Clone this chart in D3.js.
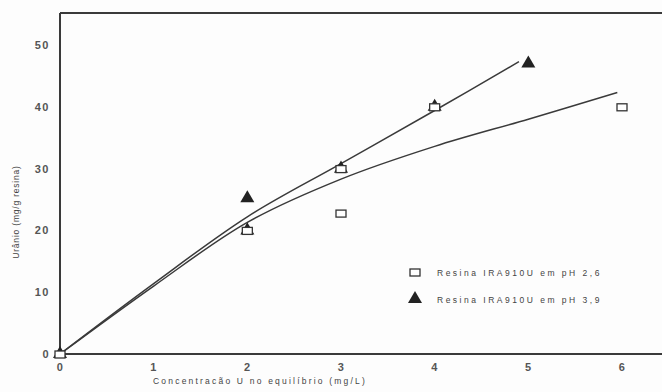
<!DOCTYPE html>
<html><head><meta charset="utf-8">
<script src="https://cdn.jsdelivr.net/npm/d3@7"></script>
<style>body{margin:0;background:#fff}svg{display:block}</style>
</head><body>
<script>
// Data
const xTicks = [0,1,2,3,4,5,6];
const yTicks = [0,10,20,30,40,50];
const seriesNames = ["Resina IRA910U em pH 2,6","Resina IRA910U em pH 3,9"];
// pH 2.6 (open squares)
const sqX = [0,2,3,3,4,6];
const sqY = [0,20,22.8,30,40,40];
// pH 3.9 (filled triangles)
const triX = [0,2,2,3,4,5];
const triY = [0,20,25.2,30,40,47];
// fitted curves
const fitLowX = [0,1,2,3,4,5,5.95];
const fitLowY = [0,11,21.3,28.3,33.6,38,42.3];
const fitHighX = [0,1,2,3,4,4.9];
const fitHighY = [0,11.4,22.2,30.8,39.4,47.3];

const W=662,H=392;
const svg=d3.select("body").append("svg").attr("width",W).attr("height",H);
svg.append("rect").attr("width",W).attr("height",H).attr("fill","#fdfdfd");

const x=d3.scaleLinear().domain([0,6]).range([60,622]);
const y=d3.scaleLinear().domain([0,50]).range([354,45]);
const ink="#3a3a3a";
const font="Liberation Sans, Arial, sans-serif";

// frame
svg.append("line").attr("x1",60).attr("x2",662).attr("y1",13).attr("y2",13).attr("stroke",ink).attr("stroke-width",2);
const xAxis=svg.append("g").attr("transform","translate(0,354)")
  .call(d3.axisBottom(x).tickValues(xTicks).tickSize(0).tickPadding(9).tickFormat(d3.format("d")));
xAxis.select(".domain").attr("d","M60,0H662").attr("stroke",ink).attr("stroke-width",2);
const yAxis=svg.append("g").attr("transform","translate(60,0)")
  .call(d3.axisLeft(y).tickValues(yTicks).tickSize(0).tickPadding(10).tickFormat(d3.format("d")));
yAxis.select(".domain").attr("d","M0,13V355").attr("stroke",ink).attr("stroke-width",2);
svg.selectAll(".tick text").attr("font-family",font)
  .attr("font-size",11).attr("font-weight","bold").attr("fill","#555").attr("letter-spacing",1.5);

// titles
svg.append("text").attr("x",260).attr("y",384).attr("text-anchor","middle")
  .attr("font-family",font).attr("font-size",8.5).attr("letter-spacing",2.2)
  .attr("fill","#444").text("Concentracão U no equilíbrio (mg/L)");
svg.append("text").attr("transform","translate(19,212) rotate(-90)").attr("text-anchor","middle")
  .attr("font-family",font).attr("font-size",8.5).attr("letter-spacing",0.8)
  .attr("fill","#444").text("Urânio (mg/g resina)");

// curves
const line=d3.line().x(d=>x(d[0])).y(d=>y(d[1])).curve(d3.curveCatmullRom.alpha(0.5));
svg.append("path").attr("d",line(fitLowX.map((v,i)=>[v,fitLowY[i]]))).attr("fill","none").attr("stroke",ink).attr("stroke-width",1.5);
svg.append("path").attr("d",line(fitHighX.map((v,i)=>[v,fitHighY[i]]))).attr("fill","none").attr("stroke",ink).attr("stroke-width",1.5);

// markers
const tri=d3.symbol().type(d3.symbolTriangle).size(85);
svg.selectAll(".tri").data(triX.map((v,i)=>[v,triY[i]])).enter().append("path")
  .attr("d",tri).attr("transform",d=>`translate(${x(d[0])},${y(d[1])})`).attr("fill","#222");
svg.selectAll(".sq").data(sqX.map((v,i)=>[v,sqY[i]])).enter().append("rect")
  .attr("x",d=>x(d[0])-5).attr("y",d=>y(d[1])-3).attr("width",10).attr("height",7)
  .attr("fill","#fff").attr("stroke","#333").attr("stroke-width",1.3);

// legend
const lg=svg.append("g").attr("font-family",font).attr("font-size",8.5).attr("fill","#444").attr("letter-spacing",2.5);
lg.append("rect").attr("x",410).attr("y",269).attr("width",10).attr("height",7).attr("fill","#fff").attr("stroke","#333").attr("stroke-width",1.3);
lg.append("text").attr("x",437).attr("y",276).text(seriesNames[0]);
lg.append("path").attr("d",tri).attr("transform","translate(415,299)").attr("fill","#222");
lg.append("text").attr("x",437).attr("y",303).text(seriesNames[1]);
</script>
</body></html>
